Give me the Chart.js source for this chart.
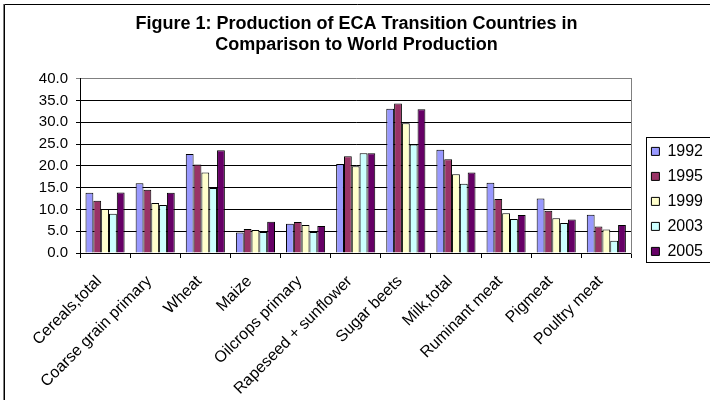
<!DOCTYPE html>
<html>
<head>
<meta charset="utf-8">
<script src="https://cdn.jsdelivr.net/npm/chart.js@4.4.1/dist/chart.umd.min.js"></script>
<style>
  html, body { margin: 0; padding: 0; background: #fff; overflow: hidden; }
  #wrap { width: 710px; height: 400px; }
</style>
</head>
<body>
<div id="wrap"><canvas id="grafico" width="710" height="400"></canvas></div>
<script>
// datos
const categorias = ['Cereals,total', 'Coarse grain primary', 'Wheat', 'Maize', 'Oilcrops primary',
    'Rapeseed + sunflower', 'Sugar beets', 'Milk,total', 'Ruminant meat', 'Pigmeat', 'Poultry meat'];
const anios = ['1992', '1995', '1999', '2003', '2005'];
const v1992 = [13.8, 16.0, 22.7, 4.7, 6.7, 20.4, 33.1, 23.7, 16.1, 12.5, 8.8];
const v1995 = [12.0, 14.5, 20.3, 5.5, 7.1, 22.2, 34.3, 21.5, 12.4, 9.7, 6.1];
const v1999 = [10.1, 11.5, 18.5, 5.3, 6.4, 19.9, 29.8, 18.1, 9.1, 8.0, 5.4];
const v2003 = [9.0, 11.0, 14.9, 4.8, 4.8, 22.9, 24.9, 15.9, 7.8, 6.9, 2.8];
const v2005 = [13.9, 13.8, 23.6, 7.2, 6.2, 22.9, 33.0, 18.5, 8.7, 7.7, 6.4];
const colores = ['#9999FF', '#993366', '#FFFFCC', '#CCFFFF', '#660066'];
const titulo = ['Figure 1: Production of ECA Transition Countries in', 'Comparison to World Production'];

const series = [v1992, v1995, v1999, v2003, v2005];
const fuente = 'Liberation Sans, Arial, sans-serif';

// marco exterior y recuadro de la leyenda
const marcos = {
    id: 'marcos',
    afterDraw(chart) {
        const c = chart.ctx;
        c.save();
        c.lineWidth = 1;
        c.strokeStyle = '#808080';
        c.beginPath(); c.moveTo(3.5, 4); c.lineTo(3.5, 400); c.stroke();
        c.strokeStyle = '#000';
        c.beginPath(); c.moveTo(4.5, 400); c.lineTo(4.5, 4.5); c.lineTo(710, 4.5); c.stroke();
        const hb = chart.legend.legendHitBoxes;
        if (hb && hb.length) {
            const top = hb[0].top - 6;
            const bot = hb[hb.length - 1].top + hb[hb.length - 1].height + 3;
            const left = hb[0].left - 5;
            c.strokeStyle = '#000';
            c.strokeRect(Math.round(left) + 0.5, Math.round(top) + 0.5, 80, Math.round(bot - top));
        }
        c.restore();
    }
};

new Chart(document.getElementById('grafico').getContext('2d'), {
    type: 'bar',
    data: {
        labels: categorias,
        datasets: anios.map((a, i) => ({
            label: a,
            data: series[i],
            backgroundColor: colores[i],
            borderColor: '#000',
            borderWidth: 1,
            categoryPercentage: 0.78,
            barPercentage: 1
        }))
    },
    options: {
        responsive: false,
        animation: false,
        layout: { padding: { left: 0, right: -3, top: 0, bottom: 0 } },
        plugins: {
            title: {
                display: true,
                text: titulo,
                color: '#000',
                font: { family: fuente, size: 18, weight: 'bold', lineHeight: 1.2 },
                padding: { top: 13, bottom: 22.5 }
            },
            legend: {
                display: true,
                position: 'right',
                align: 'start',
                title: { display: true, text: ' ', font: { size: 12, lineHeight: 1.2 }, padding: { top: 0, bottom: 120 } },
                labels: {
                    color: '#000',
                    boxWidth: 8,
                    boxHeight: 8,
                    padding: 9,
                    font: { family: fuente, size: 16 }
                }
            },
            tooltip: { enabled: false }
        },
        scales: {
            x: {
                grid: { offset: true, drawOnChartArea: false, color: '#000', tickLength: 5 },
                border: { color: '#000' },
                ticks: { color: '#000', font: { family: fuente, size: 16 }, minRotation: 45, maxRotation: 45, autoSkip: false, padding: 14, labelOffset: -6 },
                afterFit(s) { s.height = 147; }
            },
            y: {
                min: 0,
                max: 40,
                ticks: { stepSize: 5, color: '#000', padding: 8, font: { family: fuente, size: 15 }, callback: v => v.toFixed(1) },
                grid: { color: c => (c.tick && c.tick.value === 40 ? '#808080' : '#000'), tickLength: 4 },
                border: { color: '#000' },
                afterFit(s) { s.width = 80; }
            },
            y2: {
                position: 'right',
                min: 0,
                max: 40,
                ticks: { display: false },
                grid: { display: false },
                border: { color: '#808080' },
                afterFit(s) { s.width = 11; }
            }
        }
    },
    plugins: [marcos]
});
</script>
</body>
</html>
